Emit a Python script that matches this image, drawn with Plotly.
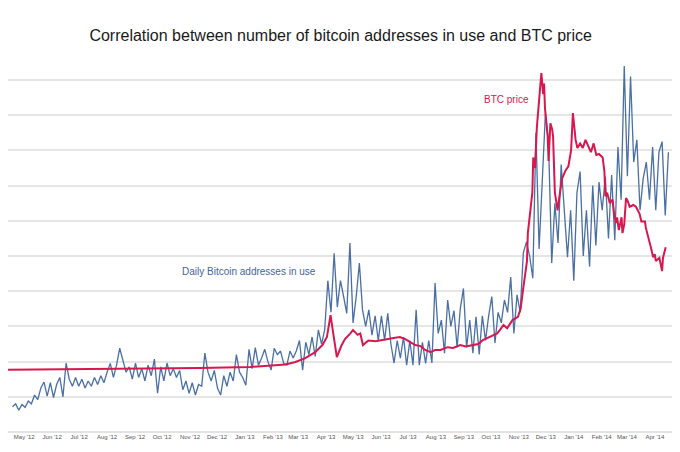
import pandas as pd
import plotly.graph_objects as go

# Daily bitcoin addresses in use (index, gridline units), sampled every 3.5 days from 2012-04-25
addr_start = "2012-04-25"
addresses = [
    0.72, 0.80, 0.62, 0.78, 0.70, 0.88, 0.80, 1.05, 0.92, 1.25,
    1.42, 1.02, 1.40, 0.98, 1.35, 1.55, 1.00, 1.96, 1.50, 1.30,
    1.55, 1.30, 1.50, 1.25, 1.45, 1.30, 1.55, 1.35, 1.60, 1.40,
    1.70, 1.95, 1.55, 1.90, 2.38, 2.05, 1.70, 1.85, 1.50, 1.96,
    1.55, 1.80, 1.45, 1.90, 1.60, 2.07, 1.10, 1.85, 1.45, 1.96,
    1.60, 1.80, 1.55, 1.75, 1.20, 1.45, 1.10, 1.40, 1.05, 1.35,
    1.30, 2.24, 1.70, 1.45, 1.75, 1.25, 1.05, 1.60, 1.30, 1.70,
    1.45, 2.20, 1.70, 1.55, 1.33, 2.35, 1.80, 2.40, 1.90, 2.10,
    2.35, 2.00, 1.76, 2.38, 2.20, 2.30, 1.95, 1.90, 2.30, 2.10,
    2.30, 2.60, 1.76, 2.55, 2.20, 2.70, 2.15, 2.90, 2.50, 2.90,
    4.30, 3.40, 5.08, 3.55, 4.30, 3.85, 3.37, 5.37, 3.10, 3.85,
    4.80, 3.47, 3.00, 3.47, 2.75, 3.30, 2.60, 3.30, 2.60, 3.37,
    2.50, 1.96, 2.60, 2.10, 2.70, 1.90, 2.60, 1.90, 3.47, 1.90,
    2.55, 1.95, 2.60, 1.96, 4.23, 2.80, 3.18, 2.24, 3.75, 3.00,
    3.45, 2.40, 3.50, 4.08, 2.40, 3.18, 2.24, 3.27, 2.20, 3.30,
    2.60, 3.30, 3.85, 2.53, 3.40, 3.10, 3.75, 3.40, 4.40, 2.80,
    3.90, 3.40, 5.10, 5.40, 5.00, 4.37, 8.50, 5.20, 7.00, 9.06,
    8.20, 4.80, 6.50, 5.37, 7.60, 6.20, 4.97, 6.30, 4.30, 6.80,
    7.40, 5.00, 6.30, 4.70, 7.00, 5.30, 7.10, 6.30, 7.25, 5.50,
    7.30, 5.45, 8.10, 6.60, 10.40, 7.27, 10.10, 7.67, 8.30, 6.30,
    7.20, 7.67, 6.60, 8.10, 6.30, 7.95, 8.25, 6.15, 7.95,
]
addr_dates = pd.date_range(addr_start, periods=len(addresses), freq="84h")

# BTC price (same index scale)
price_dates = [
    "2012-04-11", "2012-06-06", "2012-07-31", "2012-09-25", "2012-11-19",
    "2013-01-14", "2013-02-05", "2013-02-22", "2013-03-05", "2013-03-16",
    "2013-03-27", "2013-04-04", "2013-04-09", "2013-04-13", "2013-04-16",
    "2013-04-20", "2013-04-25", "2013-04-29", "2013-05-05", "2013-05-08",
    "2013-05-13", "2013-05-16", "2013-05-19", "2013-05-25", "2013-06-02",
    "2013-06-13", "2013-06-22", "2013-06-29", "2013-07-05", "2013-07-10",
    "2013-07-16", "2013-07-22", "2013-07-27", "2013-08-02", "2013-08-07",
    "2013-08-13", "2013-08-21", "2013-08-27", "2013-09-04", "2013-09-10",
    "2013-09-15", "2013-09-24", "2013-09-29", "2013-10-07", "2013-10-15",
    "2013-10-18", "2013-10-22", "2013-10-26", "2013-11-01", "2013-11-07",
    "2013-11-10", "2013-11-13", "2013-11-15", "2013-11-17", "2013-11-18",
    "2013-11-21", "2013-11-23", "2013-11-24", "2013-11-26", "2013-11-28",
    "2013-12-01", "2013-12-03", "2013-12-05", "2013-12-06", "2013-12-07",
    "2013-12-10", "2013-12-11", "2013-12-13", "2013-12-15", "2013-12-16",
    "2013-12-18", "2013-12-21", "2013-12-22", "2013-12-24", "2013-12-26",
    "2013-12-30", "2014-01-02", "2014-01-05", "2014-01-07", "2014-01-10",
    "2014-01-12", "2014-01-15", "2014-01-18", "2014-01-21", "2014-01-24",
    "2014-01-27", "2014-01-30", "2014-02-02", "2014-02-05", "2014-02-09",
    "2014-02-11", "2014-02-12", "2014-02-14", "2014-02-17", "2014-02-20",
    "2014-02-22", "2014-02-24", "2014-02-25", "2014-02-27", "2014-03-02",
    "2014-03-03", "2014-03-05", "2014-03-07", "2014-03-09", "2014-03-11",
    "2014-03-15", "2014-03-18", "2014-03-22", "2014-03-24", "2014-03-28",
    "2014-03-29", "2014-04-01", "2014-04-04", "2014-04-06", "2014-04-08",
    "2014-04-09", "2014-04-13", "2014-04-16", "2014-04-17", "2014-04-20",
]
price = [
    1.77, 1.78, 1.79, 1.80, 1.82,
    1.85, 1.88, 1.92, 1.99, 2.10,
    2.27, 2.47, 2.70, 3.32, 2.80,
    2.13, 2.45, 2.64, 2.80, 2.90,
    2.76, 2.80, 2.47, 2.60, 2.58,
    2.62, 2.67, 2.70, 2.64, 2.56,
    2.47, 2.44, 2.33, 2.27, 2.33,
    2.33, 2.41, 2.39, 2.47, 2.43,
    2.46, 2.50, 2.61, 2.70, 2.80,
    2.90, 3.04, 2.95, 3.18, 3.27,
    3.50, 4.10, 4.50, 4.85, 5.65,
    6.30, 6.80, 7.80, 7.50, 8.66,
    9.60, 10.20, 9.60, 9.90, 9.20,
    8.40, 7.70, 8.77, 8.60, 8.40,
    6.80, 6.30, 6.50, 6.87, 7.20,
    7.44, 7.55, 8.00, 9.06, 8.30,
    8.07, 8.20, 8.07, 8.30, 8.10,
    7.95, 8.20, 7.87, 7.90, 7.80,
    7.40, 6.70, 6.80, 6.50, 6.60,
    6.15, 5.94, 6.10, 5.74, 6.10,
    5.65, 5.90, 6.65, 6.55, 6.40,
    6.45, 6.40, 6.20, 5.98, 5.98,
    5.80, 5.45, 5.20, 4.97, 5.05,
    4.86, 4.95, 4.57, 4.95, 5.25,
]

# month ticks (labels sit about a week into each month)
tick_dates = pd.date_range("2012-05-01", periods=24, freq="MS") + pd.Timedelta(days=7)
tick_labels = [d.strftime("%b '%y") for d in tick_dates]

blue = "#4a6fa5"
red = "#d8174f"

fig = go.Figure()
fig.add_trace(go.Scatter(x=addr_dates, y=addresses, mode="lines",
                         line=dict(color=blue, width=1.3), name="Daily Bitcoin addresses in use"))
fig.add_trace(go.Scatter(x=pd.to_datetime(price_dates), y=price, mode="lines",
                         line=dict(color=red, width=2.0), name="BTC price"))

fig.add_annotation(x="2013-01-13", y=4.57, text="Daily Bitcoin addresses in use",
                   showarrow=False, font=dict(family="Liberation Sans", size=10, color="#3f64a0"))
fig.add_annotation(x="2013-10-25", y=9.46, text="BTC price",
                   showarrow=False, font=dict(family="Liberation Sans", size=10, color=red))

# page has an 8px body margin, so the figure is sized to fill what is left
fig.update_layout(
    width=672, height=444,
    margin=dict(l=0, r=8, t=52, b=20),
    paper_bgcolor="white", plot_bgcolor="white",
    showlegend=False,
    title=dict(text="Correlation between number of bitcoin addresses in use and BTC price",
               x=0.495, xanchor="center", y=1 - 27 / 444, yanchor="middle",
               font=dict(family="Liberation Sans", size=16, color="#1a1a1a")),
)
fig.update_xaxes(range=["2012-04-20", "2014-04-27"], showgrid=False,
                 tickvals=tick_dates, ticktext=tick_labels, ticks="",
                 tickfont=dict(family="Liberation Sans", size=6, color="#555"),
                 showline=False, zeroline=False)
fig.update_yaxes(range=[0, 10.57], dtick=1, showticklabels=False,
                 showgrid=True, gridcolor="#e6e6e6", gridwidth=1.5,
                 zeroline=True, zerolinecolor="#e3e3e3", zerolinewidth=1.5)

fig.write_html("out.html")
